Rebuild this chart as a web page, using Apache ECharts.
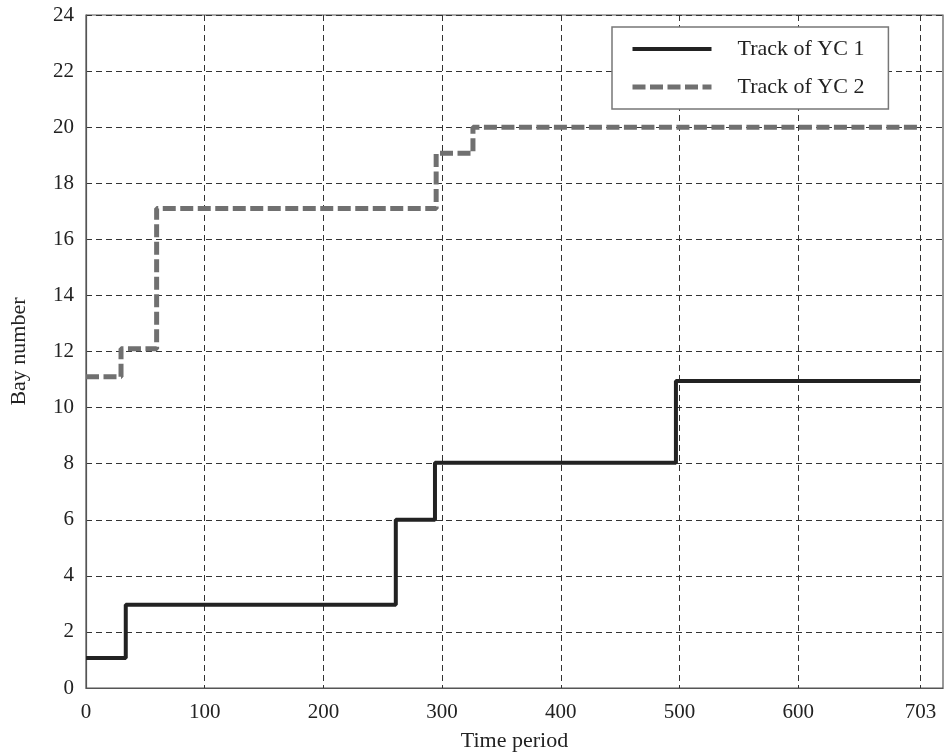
<!DOCTYPE html>
<html>
<head>
<meta charset="utf-8">
<script src="https://cdn.jsdelivr.net/npm/echarts@6/dist/echarts.min.js"></script>
<style>
html,body{margin:0;padding:0;background:#fff;}
#c{width:944px;height:753px;}
</style>
</head>
<body>
<div id="c"></div>
<script>
const yc1Time = [0, 33.5, 261, 294, 497, 703];
const yc1Bay  = [1.07, 2.97, 6, 8.03, 10.95, 10.95];
const yc2Time = [0, 29.5, 59.5, 295, 326, 703];
const yc2Bay  = [11.1, 12.1, 17.1, 19.07, 20, 20];
const xTicks  = [0, 100, 200, 300, 400, 500, 600, 703];
const seriesNames = ['Track of YC 1', 'Track of YC 2'];

const FONT = '"Liberation Serif", "Times New Roman", serif';
const chart = echarts.init(document.getElementById('c'), null, {renderer: 'canvas'});
const gridLine = {show: true, lineStyle: {color: '#333', width: 1, type: [6, 4]}};
const style1 = {color: '#222', width: 4};
const style2 = {color: '#707070', width: 5, type: [13, 4.5]};

chart.setOption({
  backgroundColor: '#fff',
  animation: false,
  grid: {left: 86, right: 1, top: 15, bottom: 65, outerBoundsMode: 'none', containLabel: false,
         show: true, borderColor: '#555', borderWidth: 1.2, backgroundColor: 'transparent'},
  legend: {
    show: true,
    orient: 'vertical', left: 612, top: 27,
    padding: [11, 24, 11, 18],
    itemWidth: 79, itemHeight: 14, itemGap: 16,
    borderColor: '#777', borderWidth: 1.5, backgroundColor: '#fff',
    itemStyle: {opacity: 0},
    textStyle: {fontFamily: FONT, fontSize: 22, color: '#222', padding: [0, 0, 0, 21], lineHeight: 22},
    data: [
      {name: seriesNames[0], lineStyle: style1},
      {name: seriesNames[1], lineStyle: style2},
    ],
  },
  xAxis: {
    type: 'value', min: 0, max: 722,
    name: 'Time period', nameLocation: 'middle', nameGap: 42,
    nameTextStyle: {fontFamily: FONT, fontSize: 22, color: '#222'},
    axisLine: {show: true, onZero: false, lineStyle: {color: '#555', width: 1.2}},
    axisTick: {show: false, customValues: xTicks},
    axisLabel: {customValues: xTicks, fontFamily: FONT, fontSize: 21, color: '#222', margin: 14},
    splitLine: gridLine,
  },
  yAxis: {
    type: 'value', min: 0, max: 24, interval: 2,
    name: 'Bay number', nameLocation: 'middle', nameGap: 56, nameRotate: 90,
    nameTextStyle: {fontFamily: FONT, fontSize: 22, color: '#222'},
    axisLine: {show: true, lineStyle: {color: '#555', width: 1.2}},
    axisTick: {show: false},
    axisLabel: {fontFamily: FONT, fontSize: 21, color: '#222', margin: 12},
    splitLine: gridLine,
  },
  series: [
    {
      name: seriesNames[0], type: 'line', step: 'end', symbol: 'none',
      data: yc1Time.map((t, i) => [t, yc1Bay[i]]),
      lineStyle: style1, itemStyle: {color: '#222'}, z: 3,
    },
    {
      name: seriesNames[1], type: 'line', step: 'end', symbol: 'none',
      data: yc2Time.map((t, i) => [t, yc2Bay[i]]),
      lineStyle: style2, itemStyle: {color: '#707070'}, z: 2,
    },
  ],
});
</script>
</body>
</html>
